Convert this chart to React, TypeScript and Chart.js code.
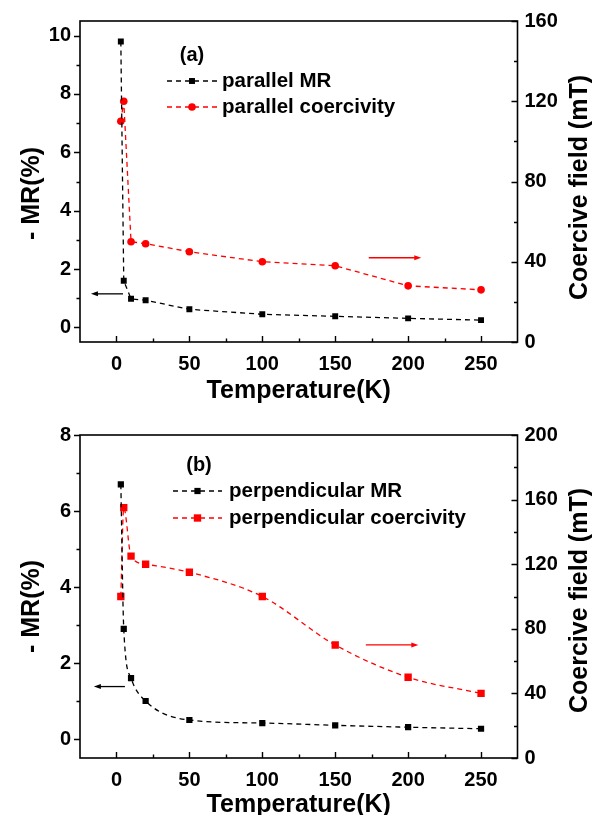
import React, { useEffect, useRef } from "react";
import { Chart, registerables } from "chart.js";

Chart.register(...registerables);

// ---------- data ----------
const temperatures = [3, 5, 10, 20, 50, 100, 150, 200, 250];
const parallelMR = [9.8, 1.6, 0.98, 0.93, 0.62, 0.45, 0.38, 0.31, 0.25];
const parallelCoercivity = [110, 120, 50, 49, 45, 40, 38, 28, 26];
const perpendicularMR = [6.7, 2.9, 1.6, 1.0, 0.5, 0.42, 0.36, 0.31, 0.27];
const perpendicularCoercivity = [100, 155, 125, 120, 115, 100, 70, 50, 40];

const xMajorTicks = [0, 50, 100, 150, 200, 250];
const xMinorTicks = [25, 75, 125, 175, 225];
const mrMajorTicksA = [0, 2, 4, 6, 8, 10];
const mrMinorTicksA = [1, 3, 5, 7, 9];
const fieldMajorTicksA = [0, 40, 80, 120, 160];
const fieldMinorTicksA = [20, 60, 100, 140];
const mrMajorTicksB = [0, 2, 4, 6, 8];
const mrMinorTicksB = [1, 3, 5, 7];
const fieldMajorTicksB = [0, 40, 80, 120, 160, 200];
const fieldMinorTicksB = [20, 60, 100, 140, 180];

const FONT = "'Liberation Sans', Arial, Helvetica, sans-serif";
const RED = "#ff0000";
const BLACK = "#000000";

type Row = { label: string; color: string; style: "rect" | "circle"; radius: number };
type Arrow = { from: number; to: number; y: number; axis: "y" | "y1"; color: string };

type Panel = {
  canvasHeight: number;
  plotTop: number;
  plotBottom: number;
  mrMin: number;
  mrMax: number;
  fieldMax: number;
  mrMajor: number[];
  mrMinor: number[];
  fieldMajor: number[];
  fieldMinor: number[];
  mr: number[];
  field: number[];
  mrLabel: string;
  fieldLabel: string;
  fieldStyle: "rect" | "circle";
  mrRadius: number;
  fieldRadius: number;
  smooth: boolean;
  panelLabel: string;
  labelDX: number;
  labelDY: number;
  lineDX: number;
  lineLen: number;
  textDX: number;
  rowDY: number[];
  arrows: Arrow[];
  titleBottomPad: number;
  sideTitleDY: number;
};

function drawMarker(ctx: CanvasRenderingContext2D, style: string, x: number, y: number, r: number, color: string) {
  ctx.fillStyle = color;
  ctx.beginPath();
  if (style === "circle") {
    ctx.arc(x, y, r, 0, Math.PI * 2);
  } else {
    const s = Math.SQRT1_2 * r;
    ctx.rect(x - s, y - s, 2 * s, 2 * s);
  }
  ctx.fill();
}

function makeDecor(p: Panel, rows: Row[]) {
  return {
    id: "figureDecor",
    afterDraw(chart: any) {
      const { ctx, chartArea: a, scales } = chart;
      const x = scales.x;
      const yl = scales.y;
      const yr = scales.y1;
      ctx.save();
      // frame
      ctx.strokeStyle = BLACK;
      ctx.lineWidth = 1.6;
      ctx.strokeRect(a.left, a.top, a.right - a.left, a.bottom - a.top);
      // tick marks
      ctx.lineWidth = 1.4;
      ctx.beginPath();
      const hx = (vals: number[], len: number) => {
        for (const v of vals) {
          const px = Math.round(x.getPixelForValue(v)) + 0.5;
          ctx.moveTo(px, a.bottom);
          ctx.lineTo(px, a.bottom - len);
        }
      };
      const vl = (vals: number[], len: number) => {
        for (const v of vals) {
          const py = Math.round(yl.getPixelForValue(v)) + 0.5;
          ctx.moveTo(a.left, py);
          ctx.lineTo(a.left - len, py);
        }
      };
      const vr = (vals: number[], len: number) => {
        for (const v of vals) {
          const py = Math.round(yr.getPixelForValue(v)) + 0.5;
          ctx.moveTo(a.right, py);
          ctx.lineTo(a.right - len, py);
        }
      };
      hx(xMajorTicks, 6);
      hx(xMinorTicks, 3.5);
      vl(p.mrMajor, 6);
      vl(p.mrMinor, 3.5);
      vr(p.fieldMajor, 6);
      vr(p.fieldMinor, 3.5);
      ctx.stroke();

      // panel label + legend
      ctx.fillStyle = BLACK;
      ctx.font = `bold 20px ${FONT}`;
      ctx.textAlign = "center";
      ctx.textBaseline = "middle";
      ctx.fillText(p.panelLabel, a.left + p.labelDX, a.top + p.labelDY);
      rows.forEach((row, i) => {
        const cy = a.top + p.rowDY[i];
        const x0 = a.left + p.lineDX;
        ctx.strokeStyle = row.color;
        ctx.lineWidth = 1.3;
        ctx.setLineDash([5, 4]);
        ctx.beginPath();
        ctx.moveTo(x0, cy);
        ctx.lineTo(x0 + p.lineLen, cy);
        ctx.stroke();
        ctx.setLineDash([]);
        drawMarker(ctx, row.style, x0 + p.lineLen / 2, cy, row.radius, row.color);
        ctx.fillStyle = BLACK;
        ctx.font = `bold 20.5px ${FONT}`;
        ctx.textAlign = "left";
        ctx.fillText(row.label, a.left + p.textDX, cy);
      });

      // arrows
      for (const ar of p.arrows) {
        const sc = ar.axis === "y" ? yl : yr;
        const py = sc.getPixelForValue(ar.y);
        const x1 = x.getPixelForValue(ar.from);
        const x2 = x.getPixelForValue(ar.to);
        const dir = Math.sign(x2 - x1);
        ctx.strokeStyle = ar.color;
        ctx.fillStyle = ar.color;
        ctx.lineWidth = 1.3;
        ctx.beginPath();
        ctx.moveTo(x1, py);
        ctx.lineTo(x2 - dir * 5, py);
        ctx.stroke();
        ctx.beginPath();
        ctx.moveTo(x2, py);
        ctx.lineTo(x2 - dir * 7, py - 2.5);
        ctx.lineTo(x2 - dir * 7, py + 2.5);
        ctx.closePath();
        ctx.fill();
      }

      // side axis titles (both read bottom-to-top)
      const midY = (a.top + a.bottom) / 2 + p.sideTitleDY;
      ctx.fillStyle = BLACK;
      ctx.font = `bold 25px ${FONT}`;
      ctx.textAlign = "center";
      ctx.textBaseline = "middle";
      ctx.save();
      ctx.translate(32, midY);
      ctx.rotate(-Math.PI / 2);
      ctx.fillText("- MR(%)", 0, 0);
      ctx.restore();
      ctx.save();
      ctx.translate(580, midY - 6);
      ctx.rotate(-Math.PI / 2);
      ctx.fillText("Coercive field (mT)", 0, 0);
      ctx.restore();
      ctx.restore();
    },
  };
}

function buildChart(canvas: HTMLCanvasElement, p: Panel) {
  const rows: Row[] = [
    { label: p.mrLabel, color: BLACK, style: "rect", radius: p.mrRadius },
    { label: p.fieldLabel, color: RED, style: p.fieldStyle, radius: p.fieldRadius },
  ];
  const tickFont = { family: FONT, size: 20, weight: "bold" as const };
  const titleFont = { family: FONT, size: 25, weight: "bold" as const, lineHeight: "20px" };
  const setTicks = (vals: number[]) => (scale: any) => {
    scale.ticks = vals.map((v) => ({ value: v }));
  };
  const common = {
    type: "line" as const,
    borderWidth: 1.3,
    borderDash: [5, 4],
    pointBorderWidth: 0,
    pointHoverRadius: 0,
    fill: false,
    cubicInterpolationMode: p.smooth ? ("monotone" as const) : ("default" as const),
    tension: 0,
  };
  return new Chart(canvas, {
    type: "line",
    data: {
      datasets: [
        {
          ...common,
          label: p.mrLabel,
          data: temperatures.map((t, i) => ({ x: t, y: p.mr[i] })),
          borderColor: BLACK,
          backgroundColor: BLACK,
          pointStyle: "rect",
          pointRadius: p.mrRadius,
          yAxisID: "y",
        },
        {
          ...common,
          label: p.fieldLabel,
          data: temperatures.map((t, i) => ({ x: t, y: p.field[i] })),
          borderColor: RED,
          backgroundColor: RED,
          pointStyle: p.fieldStyle,
          pointRadius: p.fieldRadius,
          yAxisID: "y1",
        },
      ],
    },
    options: {
      responsive: false,
      animation: false,
      events: [],
      layout: { autoPadding: false, padding: { top: p.plotTop, left: 0, right: 0, bottom: 0 } },
      plugins: { legend: { display: false }, tooltip: { enabled: false } },
      scales: {
        x: {
          type: "linear",
          position: "bottom",
          min: -25,
          max: 275,
          afterBuildTicks: setTicks(xMajorTicks),
          afterFit: (s: any) => {
            s.height = p.canvasHeight - p.plotBottom;
          },
          grid: { display: false, drawTicks: false },
          border: { display: false },
          ticks: { font: tickFont, color: BLACK, padding: 10, maxRotation: 0 },
          title: {
            display: true,
            text: "Temperature(K)",
            font: titleFont,
            color: BLACK,
            padding: { top: 0, bottom: p.titleBottomPad },
          },
        },
        y: {
          type: "linear",
          position: "left",
          min: p.mrMin,
          max: p.mrMax,
          afterBuildTicks: setTicks(p.mrMajor),
          afterFit: (s: any) => {
            s.width = 80;
          },
          grid: { display: false, drawTicks: false },
          border: { display: false },
          ticks: { font: tickFont, color: BLACK, padding: 9 },
        },
        y1: {
          type: "linear",
          position: "right",
          min: 0,
          max: p.fieldMax,
          afterBuildTicks: setTicks(p.fieldMajor),
          afterFit: (s: any) => {
            s.width = 82.5;
          },
          grid: { display: false, drawTicks: false },
          border: { display: false },
          ticks: { font: tickFont, color: BLACK, padding: 7 },
        },
      },
    },
    plugins: [makeDecor(p, rows)],
  } as any);
}

const panelA: Panel = {
  canvasHeight: 410,
  plotTop: 19,
  plotBottom: 342,
  mrMin: -0.5,
  mrMax: 10.5,
  fieldMax: 160,
  mrMajor: mrMajorTicksA,
  mrMinor: mrMinorTicksA,
  fieldMajor: fieldMajorTicksA,
  fieldMinor: fieldMinorTicksA,
  mr: parallelMR,
  field: parallelCoercivity,
  mrLabel: "parallel MR",
  fieldLabel: "parallel coercivity",
  fieldStyle: "circle",
  mrRadius: 4.2,
  fieldRadius: 3.8,
  smooth: false,
  panelLabel: "(a)",
  labelDX: 112,
  labelDY: 34,
  lineDX: 87,
  lineLen: 50,
  textDX: 142,
  rowDY: [60, 86],
  arrows: [
    { from: 4.5, to: -17.5, y: 1.15, axis: "y", color: BLACK },
    { from: 173, to: 209, y: 42, axis: "y1", color: RED },
  ],
  titleBottomPad: 9,
  sideTitleDY: 12,
};

const panelB: Panel = {
  canvasHeight: 405,
  plotTop: 25,
  plotBottom: 348,
  mrMin: -0.5,
  mrMax: 8,
  fieldMax: 200,
  mrMajor: mrMajorTicksB,
  mrMinor: mrMinorTicksB,
  fieldMajor: fieldMajorTicksB,
  fieldMinor: fieldMinorTicksB,
  mr: perpendicularMR,
  field: perpendicularCoercivity,
  mrLabel: "perpendicular MR",
  fieldLabel: "perpendicular coercivity",
  fieldStyle: "rect",
  mrRadius: 4.4,
  fieldRadius: 5.2,
  smooth: true,
  panelLabel: "(b)",
  labelDX: 119,
  labelDY: 30,
  lineDX: 93,
  lineLen: 49,
  textDX: 149,
  rowDY: [56, 83],
  arrows: [
    { from: 5.8, to: -15.5, y: 1.38, axis: "y", color: BLACK },
    { from: 171, to: 207, y: 70, axis: "y1", color: RED },
  ],
  titleBottomPad: 0,
  sideTitleDY: 10,
};

export default function App() {
  const refA = useRef<HTMLCanvasElement>(null);
  const refB = useRef<HTMLCanvasElement>(null);
  useEffect(() => {
    const a = buildChart(refA.current!, panelA);
    const b = buildChart(refB.current!, panelB);
    return () => {
      a.destroy();
      b.destroy();
    };
  }, []);
  return (
    <div
      style={{
        position: "absolute",
        left: 0,
        top: 0,
        width: 600,
        height: 815,
        overflow: "hidden",
        background: "#ffffff",
      }}
    >
      <canvas
        ref={refA}
        width={600}
        height={410}
        style={{ position: "absolute", left: 0, top: 0, width: 600, height: 410 }}
      />
      <canvas
        ref={refB}
        width={600}
        height={405}
        style={{ position: "absolute", left: 0, top: 410, width: 600, height: 405 }}
      />
    </div>
  );
}
